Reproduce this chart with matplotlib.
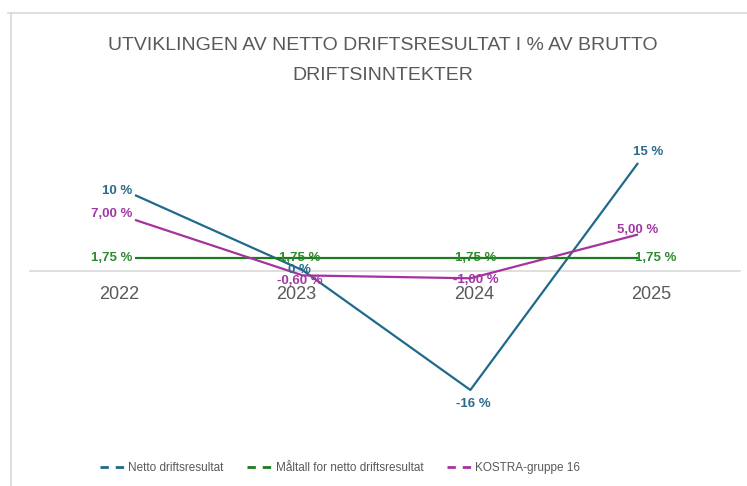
import matplotlib.pyplot as plt
from matplotlib.lines import Line2D

years = ["2022", "2023", "2024", "2025"]
netto = [10.4, 0.1, -16.3, 14.8]
maltall = [1.75, 1.75, 1.75, 1.75]
kostra = [7.0, -0.6, -1.0, 5.0]
netto_labels = ["10 %", "0 %", "-16 %", "15 %"]
maltall_labels = ["1,75 %"] * 4
kostra_labels = ["7,00 %", "-0,60 %", "-1,00 %", "5,00 %"]
series_names = ["Netto driftsresultat", "Måltall for netto driftsresultat", "KOSTRA-gruppe 16"]

blue = "#1f6a8c"
green = "#1e7a1e"
purple = "#a5329f"
grey = "#595959"
plt.rcParams["font.family"] = ["Liberation Sans", "DejaVu Sans"]

fig = plt.figure(figsize=(7.47, 4.86), dpi=100)
ax = fig.add_axes([30 / 747, 1 - 417 / 486, 710 / 747, 292 / 486])
ax.set_xlim(-0.626, 3.608)
ax.set_ylim(-20, 20)
ax.axis("off")

# category axis on a twin, crossing at zero
ax2 = ax.twiny()
ax2.set_xlim(-0.5, 3.5)
ax2.set_xticks(range(len(years)))
ax2.set_xticklabels(years)
ax2.xaxis.set_ticks_position("bottom")
ax2.spines["bottom"].set_position(("data", 0))
ax2.spines["bottom"].set_color("#d9d9d9")
ax2.spines["bottom"].set_linewidth(1.2)
for s in ["top", "left", "right"]:
    ax2.spines[s].set_visible(False)
ax2.tick_params(axis="x", length=0, pad=11, labelsize=13, labelcolor=grey)
ax2.set_yticks([])
ax2.set_zorder(0)
ax.set_zorder(1)

x = range(len(years))
ax.plot(x, netto, color=blue, lw=1.6, solid_capstyle="butt")
ax.plot(x, maltall, color=green, lw=1.6, solid_capstyle="butt")
ax.plot(x, kostra, color=purple, lw=1.6, solid_capstyle="butt")

def put_labels(vals, texts, color, offsets, aligns):
    for i, (v, t) in enumerate(zip(vals, texts)):
        ax.annotate(t, (i, v), xytext=offsets[i], textcoords="offset points",
                    ha=aligns[i], va="center", fontsize=9.5, fontweight="bold",
                    color=color)

put_labels(netto, netto_labels, "#2a6b8c",
           [(-2, 3), (-2, 0), (2, -10), (7, 8)], ["right", "center", "center", "center"])
put_labels(maltall, maltall_labels, "#2e8b2e",
           [(-2, 0), (-2, 0), (4, 0), (-2, 0)], ["right", "center", "center", "left"])
put_labels(kostra, kostra_labels, "#a338a3",
           [(-2, 4), (-2, -4), (4, -1), (0, 3)], ["right", "center", "center", "center"])

fig.text(383 / 747, 1 - 45 / 486, "UTVIKLINGEN AV NETTO DRIFTSRESULTAT I % AV BRUTTO",
         ha="center", va="center", fontsize=14, color=grey)
fig.text(383 / 747, 1 - 75 / 486, "DRIFTSINNTEKTER",
         ha="center", va="center", fontsize=14, color=grey)

handles = [Line2D([], [], color=c, lw=2, dashes=(3, 2.5)) for c in (blue, green, purple)]
fig.legend(handles, series_names, loc="center", bbox_to_anchor=(340 / 747, 1 - 468 / 486),
           ncol=3, frameon=False, fontsize=8.5, labelcolor=grey, handlelength=2.2,
           handletextpad=0.2, columnspacing=2.0)

# outer chart border (top and left edges visible)
fig.add_artist(Line2D([8 / 747, 1], [1 - 13 / 486] * 2, color="#d9d9d9", lw=1.2))
fig.add_artist(Line2D([11 / 747] * 2, [0, 1 - 13 / 486], color="#d9d9d9", lw=1.2))

fig.savefig("out.png", dpi=100)
